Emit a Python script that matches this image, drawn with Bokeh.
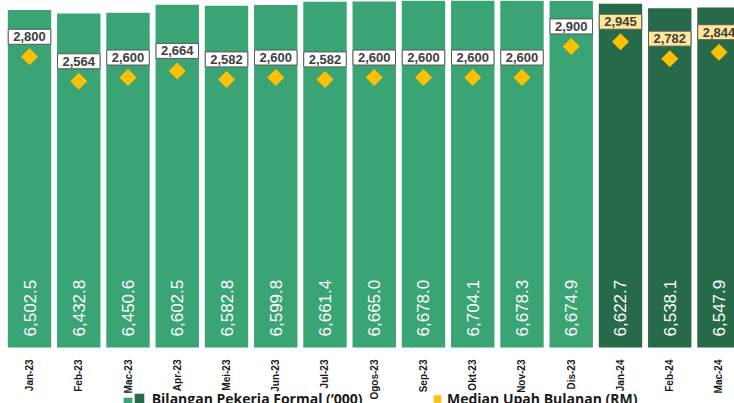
import math
from bokeh.plotting import figure
from bokeh.models import ColumnDataSource, Range1d, FixedTicker, Legend, LegendItem
from bokeh.core.properties import value
from bokeh.embed import file_html
from bokeh.resources import INLINE

months = ["Jan-23", "Feb-23", "Mac-23", "Apr-23", "Mei-23", "Jun-23", "Jul-23", "Ogos-23",
          "Sep-23", "Okt-23", "Nov-23", "Dis-23", "Jan-24", "Feb-24", "Mac-24"]
workers = [6502.5, 6432.8, 6450.6, 6602.5, 6582.8, 6599.8, 6661.4, 6665.0,
           6678.0, 6704.1, 6678.3, 6674.9, 6622.7, 6538.1, 6547.9]
wages = [2800, 2564, 2600, 2664, 2582, 2600, 2582, 2600, 2600, 2600, 2600, 2900, 2945, 2782, 2844]

LIGHT = "#3AA474"
DARK = "#276A49"
GOLD = "#FFC000"

W, H = 734, 403
BASE_PX = 347          # pixel row of the value-0 baseline
W_TOP, G_TOP = 6685, 3342  # values at the top edge (primary / secondary)
below = (H - BASE_PX) / BASE_PX

idx = list(range(len(months)))
is24 = [m.endswith("24") for m in months]
src = ColumnDataSource(dict(
    x=idx,
    workers=workers,
    wages=wages,
    wlab=[f"{v:,.1f}" for v in workers],
    glab=[f"{v:,}" for v in wages],
    color=[DARK if f else LIGHT for f in is24],
    box=["#FFE699" if f else "#FFFFFF" for f in is24],
))

p = figure(width=W, height=H, output_backend="svg", toolbar_location=None,
           x_range=Range1d(-0.589, 14.315), y_range=Range1d(-below * W_TOP, W_TOP),
           min_border_left=0, min_border_right=0, min_border_top=0, min_border_bottom=0)
p.extra_y_ranges = {"wage": Range1d(-below * G_TOP, G_TOP)}
p.outline_line_color = None
p.xgrid.visible = False
p.ygrid.visible = False
p.yaxis.visible = False
p.background_fill_color = "white"
p.border_fill_color = "white"

bars = p.vbar(x="x", top="workers", bottom=0, width=0.881, source=src,
              fill_color="color", line_color=None)

p.text(x="x", y=0, text="wlab", source=src, angle=math.pi / 2, y_offset=-11,
       text_align="left", text_baseline="middle", text_color="white",
       text_font=value("Liberation Sans"), text_font_size="17px")

dia = p.scatter(x="x", y="wages", source=src, y_range_name="wage", marker="square",
                angle=math.pi / 4, size=12, fill_color=GOLD, line_color=None)

p.text(x="x", y="wages", text="glab", source=src, y_range_name="wage", y_offset=-20,
       text_align="center", text_baseline="middle", text_color="#404040",
       text_font=value("Liberation Sans"), text_font_style="bold", text_font_size="13px",
       padding=(5, 3), background_fill_color="box", border_line_color="#595959",
       border_line_width=1)

ax = p.xaxis[0]
ax.fixed_location = 0
ax.ticker = FixedTicker(ticks=idx)
ax.major_label_overrides = {i: m for i, m in zip(idx, months)}
ax.major_label_orientation = math.pi / 2
ax.axis_line_color = None
ax.major_tick_line_color = None
ax.minor_tick_line_color = None
ax.major_label_standoff = 6
ax.major_label_text_font = "Liberation Sans"
ax.major_label_text_font_style = "bold"
ax.major_label_text_font_size = "10px"
ax.major_label_text_color = "#1a1a1a"


def mk_legend(items, vx, gw, gh, standoff):
    lg = Legend(items=items, location=(vx, -4.5), orientation="horizontal",
                glyph_width=gw, glyph_height=gh, label_standoff=standoff,
                label_width=0, label_height=12, spacing=0, padding=0, margin=0,
                border_line_color=None, background_fill_alpha=0,
                label_text_font="Open Sans", label_text_font_style="bold",
                label_text_font_size="14px", label_text_color="#1a1a1a")
    p.add_layout(lg, "center")
    return lg


mk_legend([LegendItem(label=" ", renderers=[bars], index=0)], 121.7, 11, 12, 0)
mk_legend([LegendItem(label="Bilangan Pekerja Formal (\u2018000)", renderers=[bars], index=12)], 132.7, 12, 12, 7)
mk_legend([LegendItem(label="Median Upah Bulanan (RM)", renderers=[dia], index=0)], 427, 20, 19, 0)

open("out.html", "w").write(file_html(p, INLINE))
